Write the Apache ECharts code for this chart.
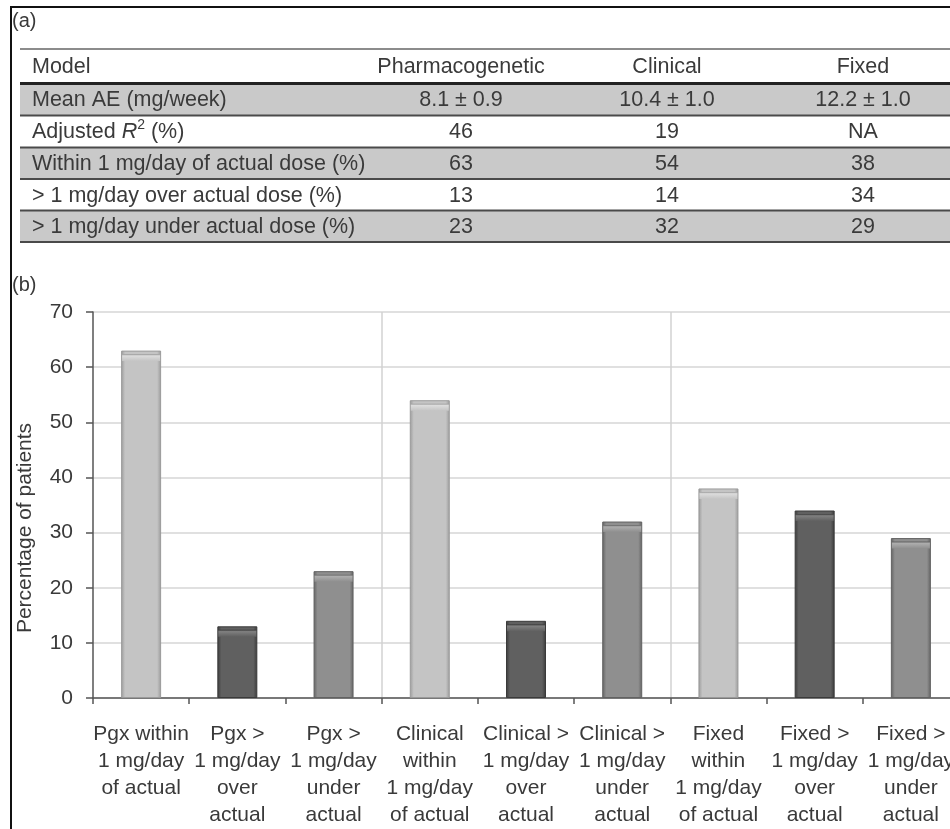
<!DOCTYPE html>
<html>
<head>
<meta charset="utf-8">
<script src="https://cdn.jsdelivr.net/npm/echarts@6/dist/echarts.min.js"></script>
<style>
  html, body { margin: 0; padding: 0; background: #fff; overflow: hidden; }
  /* the plot runs slightly past the right edge of the page */
  #chart { width: 960px; height: 829px; }
</style>
</head>
<body>
<div id="chart"></div>
<script>
// ---- Data ----
const models = ['Pharmacogenetic', 'Clinical', 'Fixed'];
const meanAE = ['8.1 \u00b1 0.9', '10.4 \u00b1 1.0', '12.2 \u00b1 1.0'];
const adjustedR2 = ['46', '19', 'NA'];
const withinPct = [63, 54, 38];
const overPct = [13, 14, 34];
const underPct = [23, 32, 29];
const rowLabels = [
  'Mean AE (mg/week)',
  'Adjusted R2 (%)',
  'Within 1 mg/day of actual dose (%)',
  '> 1 mg/day over actual dose (%)',
  '> 1 mg/day under actual dose (%)'
];
const categories = [
  'Pgx within\n1 mg/day\nof actual',
  'Pgx >\n1 mg/day\nover\nactual',
  'Pgx >\n1 mg/day\nunder\nactual',
  'Clinical\nwithin\n1 mg/day\nof actual',
  'Clinical >\n1 mg/day\nover\nactual',
  'Clinical >\n1 mg/day\nunder\nactual',
  'Fixed\nwithin\n1 mg/day\nof actual',
  'Fixed >\n1 mg/day\nover\nactual',
  'Fixed >\n1 mg/day\nunder\nactual'
];
const yAxisTitle = 'Percentage of patients';

// ---- Styling ----
const FONT = '"Liberation Sans", Arial, Helvetica, sans-serif';
const TEXT = '#3a3a3a';
// body colour, edge colour, top-bevel colour for within / over / under bars
const kindStyle = [
  { body: '#c4c4c4', edge: '#9a9a9a', cap: '#dcdcdc' },
  { body: '#606060', edge: '#3a3a3a', cap: '#808080' },
  { body: '#8f8f8f', edge: '#626262', cap: '#adadad' }
];

function barFill(k) {
  const s = kindStyle[k];
  return new echarts.graphic.LinearGradient(0, 0, 1, 0, [
    { offset: 0, color: s.edge },
    { offset: 0.1, color: s.body },
    { offset: 0.9, color: s.body },
    { offset: 1, color: s.edge }
  ]);
}
function capFill(k) {
  const s = kindStyle[k];
  return new echarts.graphic.LinearGradient(0, 0, 0, 1, [
    { offset: 0, color: s.edge },
    { offset: 0.25, color: s.cap },
    { offset: 1, color: s.body }
  ]);
}

// Bars in category order: for each model, within / over / under
const barData = [];
models.forEach((m, i) => {
  [withinPct[i], overPct[i], underPct[i]].forEach((v, k) => {
    barData.push({ value: v, itemStyle: { color: barFill(k), borderColor: kindStyle[k].edge } });
  });
});
const capData = barData.map((d, idx) => ({ value: d.value, itemStyle: { color: capFill(idx % 3) } }));

// ---- Table (panel a) ----
const tableRows = [
  ['Model', models],
  [rowLabels[0], meanAE],
  [rowLabels[1], adjustedR2],
  [rowLabels[2], withinPct.map(String)],
  [rowLabels[3], overPct.map(String)],
  [rowLabels[4], underPct.map(String)]
];
const rowEdges = [49, 83.5, 115.5, 147.5, 179, 210.5, 242];
const colCenters = [461, 667, 863];
const tableLeft = 20, tableRight = 960;
const cellFont = 21.5;

const graphics = [];
// outer frame
graphics.push({ type: 'line', shape: { x1: 11, y1: 7, x2: 960, y2: 7 }, style: { stroke: '#111', lineWidth: 2 } });
graphics.push({ type: 'line', shape: { x1: 11, y1: 6, x2: 11, y2: 829 }, style: { stroke: '#111', lineWidth: 2 } });
// panel tags
graphics.push({ type: 'text', x: 12, y: 21, style: { text: '(a)', fill: TEXT, fontSize: 20, fontFamily: FONT, verticalAlign: 'middle' } });
graphics.push({ type: 'text', x: 12, y: 285, style: { text: '(b)', fill: TEXT, fontSize: 20, fontFamily: FONT, verticalAlign: 'middle' } });

// shaded rows
[1, 3, 5].forEach(r => {
  graphics.push({ type: 'rect', shape: { x: tableLeft, y: rowEdges[r], width: tableRight - tableLeft, height: rowEdges[r + 1] - rowEdges[r] }, style: { fill: '#c9c9c9' } });
});
// rules
rowEdges.forEach((y, i) => {
  const w = i === 1 ? 3 : (i === 0 ? 1.5 : 2);
  const c = i === 1 ? '#222' : (i === 0 ? '#666' : '#4a4a4a');
  graphics.push({ type: 'line', shape: { x1: tableLeft, y1: y, x2: tableRight, y2: y }, style: { stroke: c, lineWidth: w } });
});
// cell texts
tableRows.forEach((row, r) => {
  const yc = (rowEdges[r] + rowEdges[r + 1]) / 2 + 1;
  if (r === 2) {
    graphics.push({ type: 'text', x: 32, y: yc, style: {
      text: '{a|Adjusted }{i|R}{s|2}{a| (%)}', verticalAlign: 'middle', fill: TEXT,
      rich: {
        a: { fontSize: cellFont, fontFamily: FONT, color: TEXT, lineHeight: 28 },
        i: { fontSize: cellFont, fontFamily: FONT, fontStyle: 'italic', color: TEXT, lineHeight: 28 },
        s: { fontSize: 14, fontFamily: FONT, color: TEXT, lineHeight: 14, verticalAlign: 'top' }
      }
    } });
  } else {
    graphics.push({ type: 'text', x: 32, y: yc, style: { text: row[0], fill: TEXT, fontSize: cellFont, fontFamily: FONT, verticalAlign: 'middle' } });
  }
  row[1].forEach((t, c) => {
    graphics.push({ type: 'text', x: colCenters[c], y: yc, style: { text: t, fill: TEXT, fontSize: cellFont, fontFamily: FONT, align: 'center', verticalAlign: 'middle' } });
  });
});

// ---- Chart (panel b) ----
const chart = echarts.init(document.getElementById('chart'), null, { renderer: 'canvas' });
chart.setOption({
  animation: false,
  backgroundColor: '#fff',
  grid: { left: 93, top: 312, bottom: 125, right: 1, containLabel: false },
  xAxis: {
    type: 'category',
    data: categories,
    boundaryGap: true,
    axisLine: { lineStyle: { color: '#555', width: 1.5 } },
    axisTick: { show: true, length: 6, lineStyle: { color: '#555', width: 1.5 } },
    axisLabel: { interval: 0, color: TEXT, fontSize: 21, fontFamily: FONT, lineHeight: 27, margin: 23, align: 'center' },
    splitLine: { show: true, interval: (i) => i === 3 || i === 6, lineStyle: { color: '#d2d2d2', width: 1.5 } }
  },
  yAxis: {
    type: 'value',
    min: 0, max: 70, interval: 10,
    name: yAxisTitle,
    nameLocation: 'middle',
    nameGap: 57,
    nameTextStyle: { color: TEXT, fontSize: 21, fontFamily: FONT, padding: [0, 46, 0, 0] },
    axisLine: { show: true, lineStyle: { color: '#555', width: 1.5 } },
    axisTick: { show: true, length: 7, lineStyle: { color: '#555', width: 1.5 } },
    axisLabel: { color: TEXT, fontSize: 21, fontFamily: FONT, margin: 20 },
    splitLine: { show: true, lineStyle: { color: '#d6d6d6', width: 1.5 } }
  },
  series: [
    {
      type: 'bar',
      data: barData,
      barWidth: 40,
      itemStyle: { borderWidth: 1 },
      z: 2
    },
    {
      type: 'pictorialBar',
      data: capData,
      symbol: 'rect',
      symbolSize: [38, 7],
      symbolPosition: 'end',
      symbolOffset: [0, '50%'],
      z: 3
    }
  ],
  graphic: graphics
});
</script>
</body>
</html>
